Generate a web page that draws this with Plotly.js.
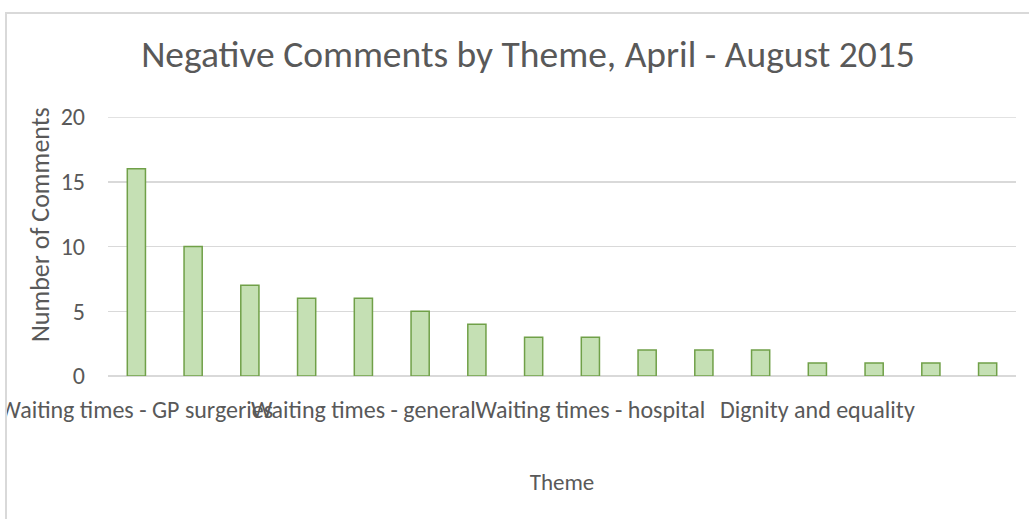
<!DOCTYPE html>
<html>
<head>
<meta charset="utf-8">
<script src="https://cdn.plot.ly/plotly-3.0.1.min.js"></script>
<style>
  html, body { margin: 0; padding: 0; background: #ffffff; overflow: hidden; }
  #chart { position: absolute; left: 0; top: 0; width: 1029px; height: 519px; z-index: 1; }
  #mask { position: absolute; left: 0; top: 0; width: 6px; height: 519px; background: #ffffff; z-index: 2; }
  #frame { position: absolute; left: 5px; top: 12px; width: 1100px; height: 600px;
           border: 2px solid #d9d9d9; box-sizing: border-box; z-index: 3; pointer-events: none; }
</style>
</head>
<body>
<div id="chart"></div>
<div id="mask"></div>
<div id="frame"></div>
<script>
// Theme names (only the labels visible in the reference are known)
const themes = [
  "Waiting times - GP surgeries", "", "", "",
  "Waiting times - general", "", "", "",
  "Waiting times - hospital", "", "", "",
  "Dignity and equality", "", "", ""
];
const comments = [16, 10, 7, 6, 6, 5, 4, 3, 3, 2, 2, 2, 1, 1, 1, 1];
const yTicks = [0, 5, 10, 15, 20];

const positions = themes.map((_, i) => i + 1);
const labelPositions = positions.filter((p, i) => themes[i] !== "");
const labelTexts = themes.filter(t => t !== "");
const yMax = Math.max(...yTicks);

const FONT = "Carlito, Calibri, Lato, 'Open Sans', sans-serif";
const GREY = "#595959";

const W = 1029, H = 519;
const M = { l: 108, r: 13, t: 117, b: 143 };
const plotW = W - M.l - M.r, plotH = H - M.t - M.b;

const trace = {
  type: "bar",
  x: positions,
  y: comments,
  marker: { color: "#c5e0b4", line: { color: "#70a048", width: 1.5 } },
  hoverinfo: "y"
};

const layout = {
  width: W, height: H,
  paper_bgcolor: "rgba(0,0,0,0)",
  plot_bgcolor: "rgba(0,0,0,0)",
  margin: { l: M.l, r: M.r, t: M.t, b: M.b, pad: 0 },
  bargap: 0.68,
  showlegend: false,
  font: { family: FONT, color: GREY, size: 24 },
  title: {
    text: "Negative Comments by Theme, April - August 2015",
    font: { family: FONT, size: 37.5, color: GREY },
    xref: "container", x: 528 / W, xanchor: "center",
    yref: "container", y: 1 - 54 / H, yanchor: "middle"
  },
  shapes: [{
    type: "line", layer: "below",
    xref: "paper", x0: 0, x1: 1,
    yref: "y", y0: yMax, y1: yMax,
    line: { color: "#d9d9d9", width: 1.5 }
  }],
  annotations: [{
    text: "Number of Comments",
    textangle: -90,
    showarrow: false,
    xref: "paper", x: (40 - M.l) / plotW, xanchor: "center",
    yref: "paper", y: (H - M.b - 225) / plotH, yanchor: "middle",
    font: { family: FONT, size: 26, color: GREY }
  }],
  xaxis: {
    range: [0.5, 16.5],
    tickmode: "array",
    tickvals: labelPositions,
    ticktext: labelTexts,
    tickangle: 0,
    ticklabeloverflow: "allow",
    showgrid: false,
    zeroline: false,
    showline: false,
    ticks: "",
    ticklabelstandoff: 17,
    tickfont: { family: FONT, size: 24, color: GREY },
    title: { text: "Theme", font: { family: FONT, size: 23, color: GREY }, standoff: 50 }
  },
  yaxis: {
    range: [0, yMax],
    tickmode: "array",
    tickvals: yTicks,
    showgrid: true,
    gridcolor: "#d9d9d9",
    gridwidth: 1.5,
    zeroline: true,
    zerolinecolor: "#d9d9d9",
    zerolinewidth: 1.5,
    showline: false,
    ticks: "",
    ticklabelstandoff: 22,
    tickfont: { family: FONT, size: 24, color: GREY }
  }
};

Plotly.newPlot("chart", [trace], layout, { displayModeBar: false, staticPlot: true });
</script>
</body>
</html>
